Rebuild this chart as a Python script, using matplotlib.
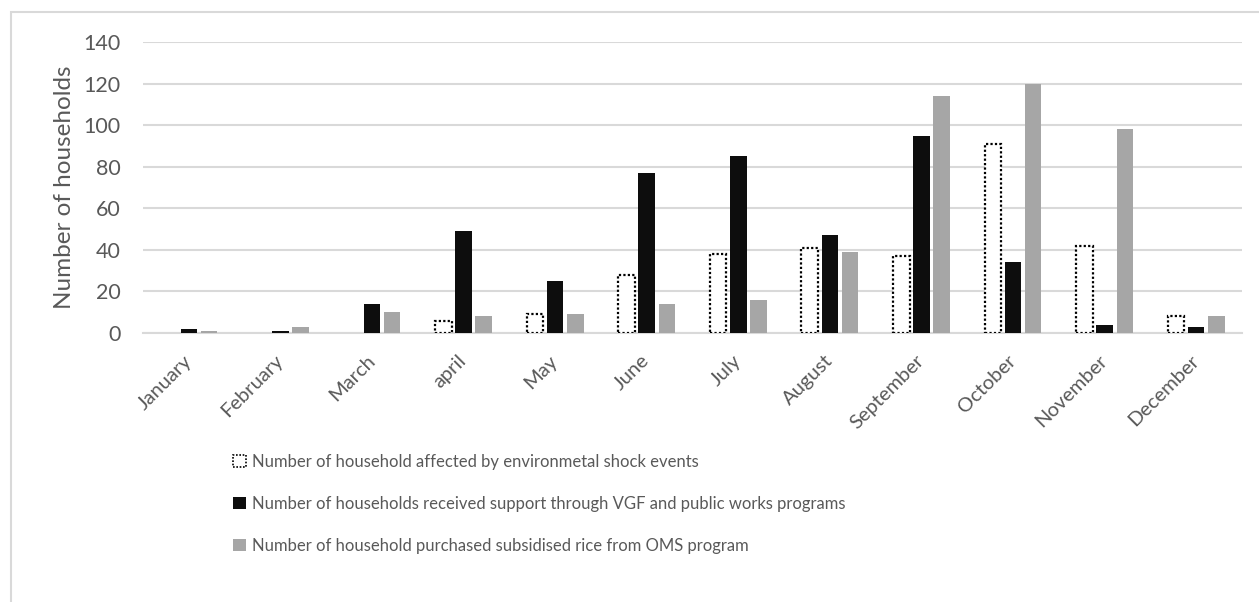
import matplotlib
matplotlib.use("Agg")
import matplotlib.pyplot as plt
from matplotlib.patches import Rectangle
import numpy as np

months = ["January", "February", "March", "april", "May", "June", "July",
          "August", "September", "October", "November", "December"]
shock_events = [0, 0, 0, 6, 9, 28, 38, 41, 37, 91, 42, 8]
vgf_support = [2, 1, 14, 49, 25, 77, 85, 47, 95, 34, 4, 3]
oms_rice = [1, 3, 10, 8, 9, 14, 16, 39, 114, 120, 98, 8]

series_labels = [
    "Number of household affected by environmetal shock events",
    "Number of households received support through VGF and public works programs",
    "Number of household purchased subsidised rice from OMS program",
]

plt.rcParams["font.family"] = ["Lato", "DejaVu Sans"]
text_color = "#595959"
grid_color = "#d9d9d9"

fig = plt.figure(figsize=(12.59, 6.02), dpi=100)
ax = fig.add_axes([0.1136, 0.4468, 0.8729, 0.4834])

x = np.arange(len(months))
bw = 0.18
step = 0.22

b1 = ax.bar(x - step, shock_events, width=bw, facecolor="white",
            edgecolor="black", linestyle=(0, (1, 1)), linewidth=1.6,
            label=series_labels[0], zorder=3)
# empty months get no outline
for patch, v in zip(b1.patches, shock_events):
    if v == 0:
        patch.set_edgecolor("none")
b2 = ax.bar(x, vgf_support, width=bw, color="#0d0d0d",
            label=series_labels[1], zorder=3)
b3 = ax.bar(x + step, oms_rice, width=bw, color="#a6a6a6",
            label=series_labels[2], zorder=3)

ax.set_xlim(-0.5, len(months) - 0.5)
ax.set_ylim(0, 140)
ax.set_yticks(range(0, 141, 20))
ax.yaxis.grid(True, color=grid_color, linewidth=1.5, zorder=0)
ax.set_axisbelow(True)
for side in ["top", "right", "left"]:
    ax.spines[side].set_visible(False)
ax.spines["bottom"].set_color(grid_color)
ax.spines["bottom"].set_linewidth(1.5)
ax.tick_params(axis="both", length=0, colors=text_color)
ax.tick_params(axis="y", pad=16, labelsize=15.5)
ax.tick_params(axis="x", pad=18, labelsize=14.5)

ax.set_xticks(x)
ax.set_xticklabels(months, rotation=45, ha="right", va="center",
                   rotation_mode="anchor")

ax.set_ylabel("Number of households", fontsize=17.5, color=text_color,
              labelpad=6)

legend_handle = Rectangle((0, 0), 1, 1, facecolor="white", edgecolor="black",
                          linestyle=(0, (1, 1)), linewidth=1.2)
leg = fig.legend(handles=[legend_handle, b2, b3], labels=series_labels,
                 loc="upper left", bbox_to_anchor=(0.180, 0.257),
                 frameon=False, fontsize=12, handlelength=0.75,
                 handleheight=0.75, handletextpad=0.35, labelspacing=1.56,
                 borderaxespad=0)
for t in leg.get_texts():
    t.set_color(text_color)

frame = Rectangle((11 / 1259, -0.1), 1.2, 1.1 - 12 / 602,
                  transform=fig.transFigure, facecolor="none",
                  edgecolor=grid_color, linewidth=1.5, zorder=-1)
fig.patches.append(frame)

fig.savefig("out.png", dpi=100)
